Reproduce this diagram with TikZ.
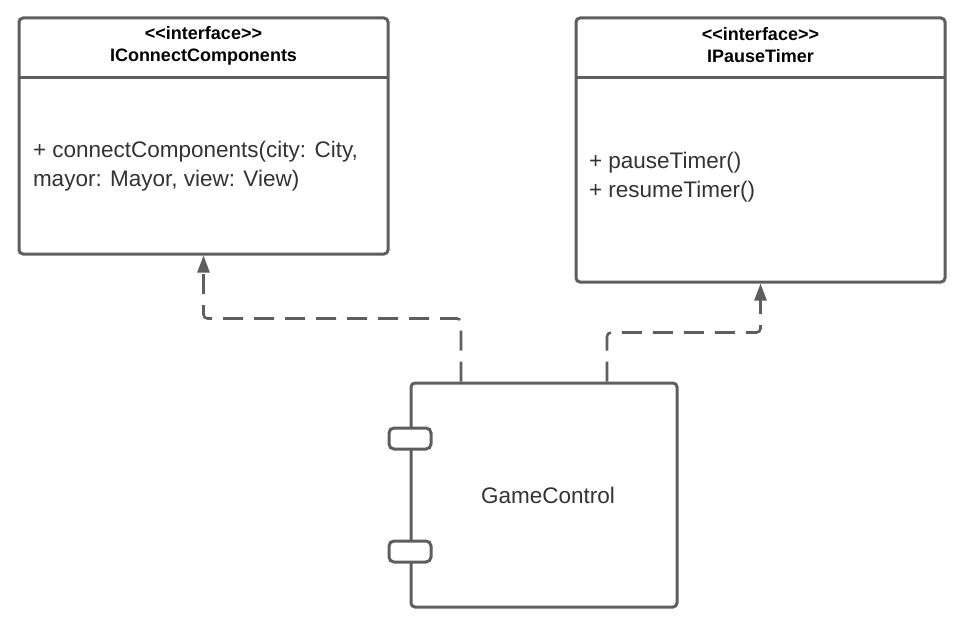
\documentclass[tikz,border=0pt]{standalone}
\usepackage{fontspec}
\usetikzlibrary{arrows.meta}
\newfontfamily\umlfont{Liberation Sans}
\definecolor{linegray}{HTML}{5E5E5E}
\definecolor{textgray}{HTML}{333333}

\begin{document}
\begin{tikzpicture}[x = 1pt, y = -1pt, line width = 3pt,
    every node/.style = {font = \umlfont, text = textgray, inner sep = 0pt},
    umlbox/.style = {draw = linegray, rounded corners = 4pt, fill = white,
        font = \umlfont\fontsize{22.5}{28}\selectfont},
    port/.style = {draw = linegray, rounded corners = 5pt, fill = white,
        minimum width = 42pt, minimum height = 21pt},
    header/.style = {align = center, text = black,
        font = \umlfont\bfseries\fontsize{18}{22}\selectfont},
    body/.style = {align = left, anchor = west,
        font = \umlfont\fontsize{22.5}{28.5}\selectfont},
    realize/.style = {draw = linegray, line width = 2.6pt, dash pattern = on 20pt off 11pt,
        rounded corners = 4pt, -{Triangle[width = 12pt, length = 17pt]}}]
    \useasboundingbox (0, 0) rectangle (971, 642);
    \node[umlbox, minimum width = 369pt, minimum height = 236pt] (connect) at (203.5, 136) {};
    \node[umlbox, minimum width = 369pt, minimum height = 264pt] (pause) at (760.5, 150) {};
    \node[umlbox, minimum width = 266pt, minimum height = 224pt] (game) at (544, 495) {\hspace{8pt}GameControl};
    \node[port] (portA) at (410, 438.5) {};
    \node[port] (portB) at (410, 551.5) {};
    \draw[linegray, shorten > = 1.5pt, shorten < = 1.5pt]
        ([yshift = -61pt]connect.north west) -- ([yshift = -61pt]connect.north east);
    \draw[linegray, shorten > = 1.5pt, shorten < = 1.5pt]
        ([yshift = -61pt]pause.north west) -- ([yshift = -61pt]pause.north east);
    \node[header] (connecthead) at ([yshift = -29pt]connect.north) {<<interface>>\\IConnectComponents};
    \node[header] (pausehead) at ([yshift = -29pt]pause.north) {<<interface>>\\IPauseTimer};
    \node[body] (connectops) at ([xshift = 14pt, yshift = -30pt]connect.west)
        {+ connectComponents(city: City,\\mayor: Mayor, view: View)};
    \node[body] (pauseops) at ([xshift = 13pt, yshift = -27pt]pause.west)
        {+ pauseTimer()\\+ resumeTimer()};
    \draw[realize] ([xshift = -83pt]game.north) -- ++(0, -63) -| (connect.south);
    \draw[realize] ([xshift = 63pt]game.north) -- ++(0, -49) -| (pause.south);
\end{tikzpicture}
\end{document}
